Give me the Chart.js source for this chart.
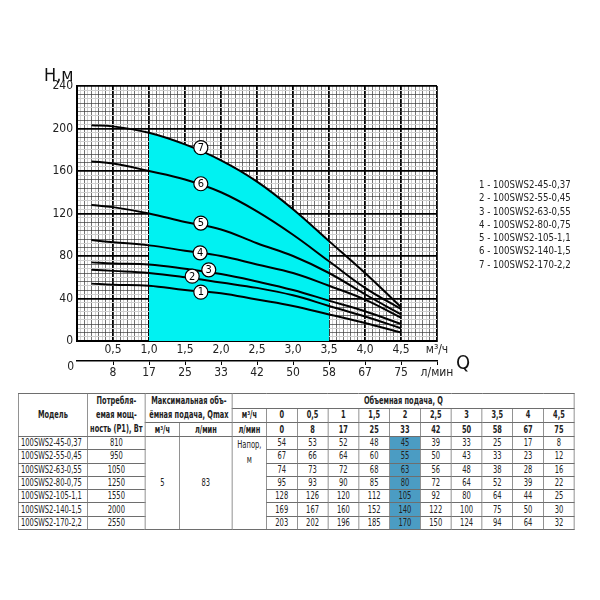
<!DOCTYPE html>
<html>
<head>
<meta charset="utf-8">
<script src="https://cdn.jsdelivr.net/npm/chart.js@4.4.1/dist/chart.umd.min.js"></script>
<style>
  body { margin: 0; background: #fff; width: 600px; height: 600px; position: relative; overflow: hidden; }
  #wrap { position: absolute; left: 0; top: 0; width: 600px; height: 390px; }
  .lbl { position: absolute; font-family: "DejaVu Sans Condensed", sans-serif; color: #111; }
  #legend { position: absolute; left: 479px; top: 178px; font-family: "DejaVu Sans Condensed", sans-serif; font-size: 11px; line-height: 13.3px; color: #222;
            transform: scaleX(0.87); transform-origin: 0 0; white-space: nowrap; }
  table { position: absolute; left: 18px; top: 393px; width: 741px; border-collapse: collapse; table-layout: fixed;
          transform: scaleX(0.75); transform-origin: 0 0;
          font-family: "DejaVu Sans Condensed", sans-serif; font-size: 10px; color: #222; border: 1.6px solid #8a8a8a; }
  td { border: 1px solid #6e6e6e; text-align: center; padding: 0; height: 12.3px; line-height: 12px; white-space: nowrap; overflow: hidden; }
  thead td { font-weight: bold; height: 13px; font-size: 9.8px; }
  td.m { text-align: left; padding-left: 3px; }
  td.hl { background: #4b9cc3; }
  td.top { vertical-align: top; line-height: 15px; }
</style>
</head>
<body>
<div id="wrap"><canvas id="pumpChart" width="600" height="390"></canvas></div>
<div class="lbl" style="left:44px; top:64px; font-size:18px;">Н,м</div>
<div class="lbl" style="left:456px; top:350px; font-size:20px;">Q</div>
<div id="legend"></div>
<table id="tbl"></table>

<script>
// flow points of the table (m3/h and l/min)
const flowM3 = [0, 0.5, 1, 1.5, 2, 2.5, 3, 3.5, 4, 4.5];
const flowLpm = [0, 8, 17, 25, 33, 42, 50, 58, 67, 75];

const models = [
  "100SWS2-45-0,37",
  "100SWS2-55-0,45",
  "100SWS2-63-0,55",
  "100SWS2-80-0,75",
  "100SWS2-105-1,1",
  "100SWS2-140-1,5",
  "100SWS2-170-2,2"
];
const power = [810, 950, 1050, 1250, 1550, 2000, 2550];
const qmaxM3 = 5;
const qmaxLpm = 83;

// head, m
const head1 = [54, 53, 52, 48, 45, 39, 33, 25, 17, 8];
const head2 = [67, 66, 64, 60, 55, 50, 43, 33, 23, 12];
const head3 = [74, 73, 72, 68, 63, 56, 48, 38, 28, 16];
const head4 = [95, 93, 90, 85, 80, 72, 64, 52, 39, 22];
const head5 = [128, 126, 120, 112, 105, 92, 80, 64, 44, 25];
const head6 = [169, 167, 160, 152, 140, 122, 100, 75, 50, 30];
const head7 = [203, 202, 196, 185, 170, 150, 124, 94, 64, 32];
const heads = [head1, head2, head3, head4, head5, head6, head7];

// curves on the plot start a bit right of zero
const curveQ = [0.2, 0.5, 1, 1.5, 2, 2.5, 3, 3.5, 4, 4.5];

// working zone (cyan) from 1.0 to 3.5 m3/h
const zoneFrom = 1.0;
const zoneTo = 3.5;

// circled curve numbers
const markQ = [1.72, 1.60, 1.83, 1.71, 1.72, 1.72, 1.72];
const markH = [46, 61, 67, 83, 111, 148, 182];

const axisFont = '"DejaVu Sans Condensed", sans-serif';

/* ================= CHART ================= */
const datasets = heads.map((h, i) => ({
  label: models[i],
  data: curveQ.map((q, j) => ({ x: q, y: h[j] })),
  borderColor: "#000",
  borderWidth: 2,
  pointRadius: 0,
  fill: false,
  tension: 0.4,
  order: 1
}));

const zone = [];
curveQ.forEach((q, j) => {
  if (q >= zoneFrom && q <= zoneTo) zone.push({ x: q, y: head7[j] });
});
datasets.push({
  label: "zone",
  data: zone,
  borderWidth: 0,
  borderColor: "rgba(0,0,0,0)",
  backgroundColor: "#00f2f2",
  pointRadius: 0,
  fill: "origin",
  tension: 0.4,
  order: 10
});

const fmt = v => v.toFixed(1).replace(".", ",");

const markers = {
  id: "markers",
  afterDraw(chart) {
    const { ctx, scales } = chart;
    ctx.save();
    markQ.forEach((q, i) => {
      const px = scales.x.getPixelForValue(q);
      const py = scales.y.getPixelForValue(markH[i]);
      ctx.beginPath();
      ctx.arc(px, py, 7, 0, Math.PI * 2);
      ctx.fillStyle = "#fff";
      ctx.fill();
      ctx.lineWidth = 1.2;
      ctx.strokeStyle = "#000";
      ctx.stroke();
      ctx.fillStyle = "#000";
      ctx.font = "11px " + axisFont;
      ctx.textAlign = "center";
      ctx.textBaseline = "middle";
      ctx.fillText(String(i + 1), px, py + 0.5);
    });
    // zero of the l/min axis
    ctx.font = "12px " + axisFont;
    ctx.fillStyle = "#222";
    ctx.textAlign = "right";
    ctx.fillText("0", scales.x2.left - 3, scales.x2.top + 6);
    ctx.restore();
  }
};

new Chart(document.getElementById("pumpChart"), {
  type: "line",
  data: { datasets },
  options: {
    responsive: false,
    animation: false,
    layout: { padding: { left: 0, right: 163, top: 86, bottom: 4 } },
    plugins: { legend: { display: false }, tooltip: { enabled: false } },
    scales: {
      x: {
        type: "linear", min: 0, max: 5, position: "bottom", z: 1,
        afterFit: s => { s.height = 20; },
        border: { display: true, color: "#000", width: 2 },
        grid: {
          drawTicks: false,
          color: c => {
            const v = Math.round(c.tick.value * 100);
            if (v % 50 === 0) return "#000";
            if (v % 10 === 0) return "#3a3a3a";
            return "#cfcfcf";
          },
          lineWidth: c => {
            const v = Math.round(c.tick.value * 100);
            if (v % 50 === 0) return 1.8;
            if (v % 10 === 0) return 0.7;
            return 1;
          }
        },
        ticks: {
          stepSize: 0.05, autoSkip: false, maxRotation: 0, padding: 2,
          color: "#222", font: { family: axisFont, size: 12 },
          callback: v => {
            const k = Math.round(v * 100);
            if (k === 500) return "м³/ч";
            if (k > 0 && k % 50 === 0) return fmt(v);
            return "";
          }
        }
      },
      x2: {
        type: "linear", min: 0, max: 5, position: "bottom",
        afterFit: s => { s.height = 25; },
        afterBuildTicks: s => {
          s.ticks = flowM3.slice(1).concat([5]).map(v => ({ value: v }));
        },
        border: { display: true, color: "#000", width: 1.5 },
        grid: { drawOnChartArea: false, drawTicks: true, tickLength: 4, color: "#000" },
        ticks: {
          autoSkip: false, maxRotation: 0, padding: 1,
          color: "#222", font: { family: axisFont, size: 12 },
          callback: (v, i) => (i < flowLpm.length - 1 ? String(flowLpm[i + 1]) : "л/мин")
        }
      },
      y: {
        type: "linear", min: 0, max: 240, z: 1,
        afterFit: s => { s.width = 77; },
        border: { display: true, color: "#000", width: 2 },
        grid: {
          drawTicks: false,
          color: c => {
            const v = c.tick.value;
            if (v % 40 === 0) return "#000";
            if (v % 8 === 0) return "#3a3a3a";
            return "#cfcfcf";
          },
          lineWidth: c => {
            const v = c.tick.value;
            if (v % 40 === 0) return 1.8;
            if (v % 8 === 0) return 0.7;
            return 1;
          }
        },
        ticks: {
          stepSize: 4, autoSkip: false, padding: 4,
          color: "#222", font: { family: axisFont, size: 12 },
          callback: v => (v % 40 === 0 ? String(v) : "")
        }
      }
    }
  },
  plugins: [markers]
});

/* ================= LEGEND ================= */
document.getElementById("legend").innerHTML =
  models.map((m, i) => `<div>${i + 1} - ${m}</div>`).join("");

/* ================= TABLE ================= */
// table is laid out wide and squeezed by scaleX(0.75)
const k = 1 / 0.75;
const flowText = flowM3.map(v => (Number.isInteger(v) ? String(v) : fmt(v)));
let html = `<colgroup><col style="width:${69 * k}px"><col style="width:${58 * k}px"><col style="width:${34 * k}px"><col style="width:${53 * k}px"><col style="width:${34 * k}px">`;
flowM3.forEach(() => { html += `<col style="width:${30.8 * k}px">`; });
html += `</colgroup><thead>`;
html += `<tr><td rowspan="3">Модель</td><td rowspan="3" style="line-height:14px">Потребля-<br>емая мощ-<br>ность (P1), Вт</td>`;
html += `<td colspan="2" rowspan="2" style="line-height:14px">Максимальная объ-<br>ёмная подача, Qmax</td>`;
html += `<td colspan="11">Объемная подача, Q</td></tr>`;
html += `<tr><td>м³/ч</td>${flowText.map(t => `<td>${t}</td>`).join("")}</tr>`;
html += `<tr><td>м³/ч</td><td>л/мин</td><td>л/мин</td>${flowLpm.map(t => `<td>${t}</td>`).join("")}</tr>`;
html += `</thead><tbody>`;
models.forEach((m, i) => {
  html += `<tr><td class="m">${m}</td><td>${power[i]}</td>`;
  if (i === 0) {
    html += `<td rowspan="7">${qmaxM3}</td><td rowspan="7">${qmaxLpm}</td><td rowspan="7" class="top">Напор,<br>м</td>`;
  }
  heads[i].forEach((h, j) => {
    html += `<td${flowM3[j] === 2 ? ' class="hl"' : ""}>${h}</td>`;
  });
  html += `</tr>`;
});
html += `</tbody>`;
document.getElementById("tbl").innerHTML = html;
</script>
</body>
</html>
